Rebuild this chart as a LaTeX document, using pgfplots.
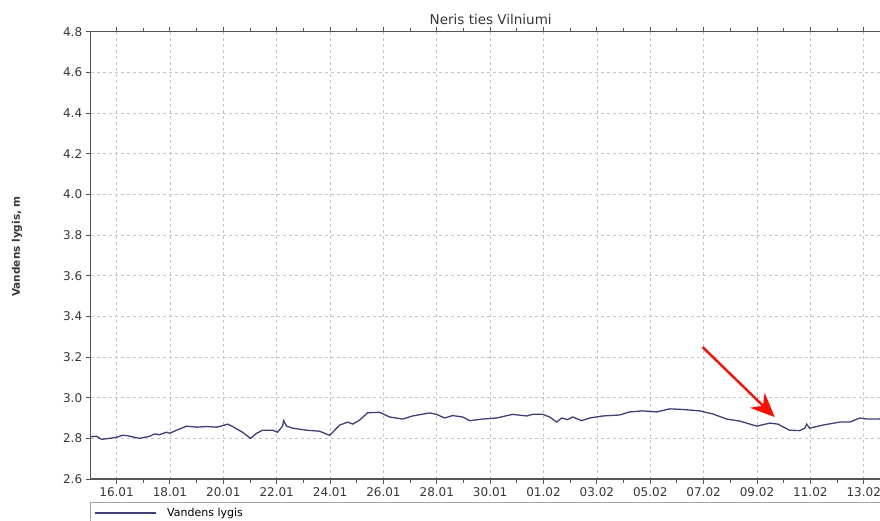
\documentclass[border=0pt]{standalone}
\usepackage{fontspec}
\setmainfont{DejaVu Sans}
\usepackage{pgfplots}
\pgfplotsset{compat=1.18}
\usetikzlibrary{arrows.meta}

\definecolor{linecol}{RGB}{62,62,120}
\definecolor{axcol}{RGB}{85,85,85}
\definecolor{txtcol}{RGB}{55,55,55}

\begin{document}
\begin{tikzpicture}
\useasboundingbox (-90.7pt,-41pt) rectangle (789.3pt,479pt);
\begin{axis}[
    scale only axis,
    width=800pt, height=447.3pt,
    xmin=15.03, xmax=45.01,
    ymin=2.6, ymax=4.8,
    ytick={2.6,2.8,3.0,3.2,3.4,3.6,3.8,4.0,4.2,4.4,4.6,4.8},
    yticklabel style={/pgf/number format/.cd, fixed, fixed zerofill, precision=1},
    xtick={16,18,20,22,24,26,28,30,32,34,36,38,40,42,44},
    xticklabels={16.01,18.01,20.01,22.01,24.01,26.01,28.01,30.01,01.02,03.02,05.02,07.02,09.02,11.02,13.02},
    minor xtick={17,19,21,23,25,27,29,31,33,35,37,39,41,43,45},
    /pgf/number format/assume math mode=true,
    tick align=outside,
    major tick length=5pt, minor tick length=4pt,
    tick style={axcol, line width=1pt},
    axis line style={axcol, line width=1.4pt},
    grid=major,
    major grid style={gray!45, dash pattern=on 3pt off 3pt, line width=0.8pt},
    ticklabel style={font=\fontsize{12}{12}\selectfont, text=txtcol},
    title={Neris ties Vilniumi},
    title style={font=\fontsize{13.5}{14}\selectfont, text=txtcol, yshift=-3pt},
    ylabel={Vandens lygis, m},
    ylabel style={font=\bfseries\fontsize{10.5}{11}\selectfont, text=txtcol,
        at={(axis description cs:-0.092,0.52)}, anchor=center},
    legend style={at={(0,0)}, anchor=north west, xshift=0pt, yshift=-25pt,
        draw=none, fill=none, font=\fontsize{11}{12}\selectfont,
        /tikz/every even column/.append style={column sep=0pt}},
    legend cell align=left,
    legend image code/.code={\draw[#1] (0pt,0pt) -- (61pt,0pt);},
    clip=false,
]
\addplot[linecol, line width=1.3pt] coordinates {
(15.03,2.808) (15.25,2.810) (15.44,2.795) (15.74,2.800) (16.00,2.805)
(16.22,2.815) (16.41,2.813) (16.60,2.807) (16.86,2.800) (17.24,2.810)
(17.42,2.822) (17.61,2.818) (17.87,2.830) (17.99,2.825) (18.25,2.840)
(18.62,2.860) (19.00,2.855) (19.37,2.858) (19.75,2.855) (19.97,2.862)
(20.16,2.870) (20.35,2.858) (20.72,2.830) (21.02,2.800) (21.25,2.825)
(21.47,2.840) (21.85,2.840) (22.03,2.830) (22.22,2.860) (22.26,2.887)
(22.37,2.860) (22.60,2.850) (23.12,2.840) (23.61,2.835) (23.98,2.815)
(24.10,2.830) (24.36,2.865) (24.66,2.880) (24.85,2.870) (25.11,2.890)
(25.41,2.926) (25.86,2.928) (26.23,2.905) (26.72,2.895) (27.09,2.910)
(27.73,2.925) (27.99,2.918) (28.29,2.900) (28.59,2.912) (28.97,2.905)
(29.23,2.887) (29.72,2.895) (30.24,2.900) (30.84,2.918) (31.37,2.910)
(31.59,2.918) (31.97,2.918) (32.23,2.905) (32.49,2.880) (32.68,2.900)
(32.90,2.892) (33.09,2.905) (33.43,2.887) (33.73,2.900) (34.22,2.910)
(34.85,2.915) (35.23,2.930) (35.72,2.935) (36.24,2.930) (36.73,2.945)
(37.21,2.942) (37.85,2.935) (38.34,2.920) (38.86,2.895) (39.35,2.885)
(39.99,2.860) (40.48,2.875) (40.78,2.870) (41.22,2.840) (41.60,2.838)
(41.79,2.850) (41.86,2.870) (41.97,2.850) (42.46,2.865) (43.10,2.880)
(43.47,2.880) (43.85,2.900) (44.11,2.895) (44.49,2.895) (44.97,2.898)
};
\addlegendentry{\hspace*{9pt}Vandens lygis}
\draw[red!90!orange, line width=2.4pt, -{Stealth[length=24pt,width=21pt]}]
    (axis cs:37.96,3.249) -- (axis cs:40.66,2.905);
\end{axis}
\draw[gray!70, line width=0.8pt] (0pt,-23pt) rectangle (800pt,-70pt);
\end{tikzpicture}
\end{document}
